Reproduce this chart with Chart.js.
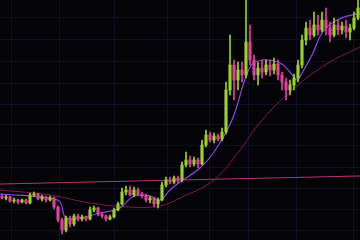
<!DOCTYPE html>
<html>
<head>
<meta charset="utf-8">
<script src="https://cdn.jsdelivr.net/npm/chart.js@4.4.1/dist/chart.umd.min.js"></script>
<style>
  html, body { margin: 0; padding: 0; background: #040407; }
  #wrap { width: 360px; height: 240px; }
</style>
</head>
<body>
<div id="wrap"><canvas id="kChart"></canvas></div>
<script>
// candle values (price units), one entry per candle
const opens  = [44,42,43,39,40,38,40,37,45,46,41,43,40,42,33,20,10,22,16,24,21,23,21,30,32,26,24,21,23,30,
                36,48,50,45,50,46,44,40,42,36,40,55,60,58,62,60,75,80,76,80,76,95,105,100,104,101,108,150,175,160,
                170,165,198,180,165,172,168,175,170,176,165,158,150,155,162,175,200,212,205,215,210,220,212,205,215,210,214,208,212,222];
const closes = [42,43,39,40,38,40,37,45,46,41,43,40,42,33,20,10,22,16,24,21,23,21,30,32,26,24,21,23,30,36,
                48,50,45,50,46,44,40,42,36,40,55,60,58,62,60,75,80,76,80,76,95,105,100,104,101,108,150,175,160,170,
                165,198,180,165,172,168,175,170,176,165,158,150,155,162,175,200,212,205,215,210,220,212,205,215,210,214,208,212,222,232];
const highs  = [46,45,44,42,41,41,41,47,48,47,45,44,44,43,34,22,24,24,26,26,25,24,33,34,33,27,25,25,32,38,
                52,54,54,53,52,48,46,44,43,42,58,63,63,64,64,78,88,84,83,82,100,110,108,107,106,112,158,205,180,178,
                178,240,215,185,178,180,180,180,182,180,168,162,160,166,180,205,218,220,228,225,228,232,218,222,220,218,220,216,228,240];
const lows   = [41,40,38,37,36,37,36,36,43,40,39,38,39,31,18,6,8,13,14,19,19,19,20,28,24,22,19,20,22,29,
                35,45,44,43,44,42,38,37,33,32,39,53,56,56,57,58,73,73,74,72,75,93,98,97,99,99,106,145,140,150,
                158,162,175,160,155,162,165,164,166,160,150,140,145,150,158,172,195,200,203,205,208,205,198,203,205,206,202,200,210,220];

// moving averages, sampled at candle positions
const maShortX = [-0.5,12,14.5,16,19.5,24.5,29.5,33,37,39.5,42,44.5,49.5,53,57.5,62,65,69.5,72,73.75,75,77.75,80,83.75,89.5];
const maShort  = [46,42,38,22,22,27,32,44,44,40,50,58,72,88,120,173,180,177,168,160,167,187,207,220,227];
const maLongX  = [-0.5,12,22,32,39.5,44.5,53,59.5,65,74,82,89.5];
const maLong   = [50,45,37,33,34,42,60,90,120,155,178,193];
const levelX   = [-0.5,89.5];
const level    = [56,64];

// grid line positions
const gridX = [8.25,20.25,35.75,47,56.5,66.5,80.75];
const gridY = [10,31,52,73,95,115,136,157,178,200,222];

const UP = '#9ad22a';
const DOWN = '#e2409e';

document.addEventListener('DOMContentLoaded', function () {
    const ctx = document.getElementById('kChart');
    const colors = closes.map((c, i) => c >= opens[i] ? UP : DOWN);

    new Chart(ctx, {
        type: 'bar',
        data: {
            datasets: [
                {
                    label: 'wick',
                    data: highs.map((h, i) => ({ x: i, y: [lows[i], h] })),
                    backgroundColor: colors,
                    barThickness: 1,
                    grouped: false,
                    order: 2
                },
                {
                    label: 'body',
                    data: opens.map((o, i) => ({ x: i, y: [o, closes[i]] })),
                    backgroundColor: colors,
                    barThickness: 2.5,
                    grouped: false,
                    order: 1
                },
                {
                    type: 'line',
                    label: 'MA short',
                    data: maShortX.map((x, i) => ({ x: x, y: maShort[i] })),
                    borderColor: '#9043ea',
                    borderWidth: 1.2,
                    pointRadius: 0,
                    tension: 0.4,
                    order: 3
                },
                {
                    type: 'line',
                    label: 'MA long',
                    data: maLongX.map((x, i) => ({ x: x, y: maLong[i] })),
                    borderColor: '#7c1a56',
                    borderWidth: 1,
                    pointRadius: 0,
                    tension: 0.4,
                    order: 3
                },
                {
                    type: 'line',
                    label: 'level',
                    data: levelX.map((x, i) => ({ x: x, y: level[i] })),
                    borderColor: '#b8307a',
                    borderWidth: 1.2,
                    pointRadius: 0,
                    order: 3
                }
            ]
        },
        options: {
            responsive: true,
            maintainAspectRatio: false,
            animation: false,
            layout: { padding: 0 },
            plugins: { legend: { display: false }, tooltip: { enabled: false } },
            scales: {
                x: {
                    type: 'linear',
                    min: -0.5,
                    max: 89.5,
                    offset: false,
                    ticks: { display: false },
                    border: { display: false },
                    grid: { color: 'rgba(40,40,120,0.28)', drawTicks: false },
                    afterBuildTicks: axis => { axis.ticks = gridX.map(v => ({ value: v })); }
                },
                y: {
                    min: 0,
                    max: 240,
                    ticks: { display: false },
                    border: { display: false },
                    grid: { color: 'rgba(40,40,120,0.28)', drawTicks: false },
                    afterBuildTicks: axis => { axis.ticks = gridY.map(v => ({ value: v })); }
                }
            }
        }
    });
});
</script>
</body>
</html>
